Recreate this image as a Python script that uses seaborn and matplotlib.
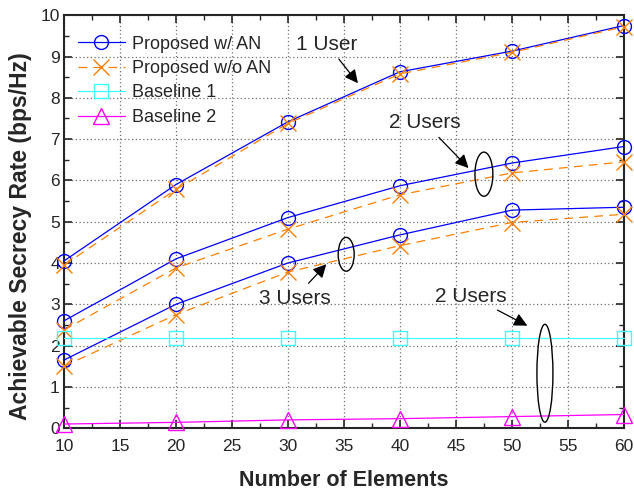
import numpy as np
import pandas as pd
import matplotlib
matplotlib.use("Agg")
import matplotlib.pyplot as plt
from matplotlib.patches import Ellipse
from matplotlib.ticker import MultipleLocator
import seaborn as sns

elements = [10, 20, 30, 40, 50, 60]

# proposed scheme with artificial noise, 1/2/3 users
an_1user = [4.05, 5.90, 7.42, 8.63, 9.13, 9.75]
an_2users = [2.60, 4.10, 5.10, 5.87, 6.42, 6.82]
an_3users = [1.65, 3.00, 4.00, 4.68, 5.28, 5.35]

# proposed scheme without artificial noise
noan_1user = [3.95, 5.78, 7.38, 8.58, 9.10, 9.72]
noan_2users = [2.38, 3.88, 4.82, 5.65, 6.18, 6.45]
noan_3users = [1.50, 2.75, 3.78, 4.42, 4.98, 5.18]

baseline1 = [2.18, 2.18, 2.18, 2.18, 2.18, 2.18]
baseline2 = [0.10, 0.14, 0.20, 0.23, 0.28, 0.33]

sns.set_style("ticks")
plt.rcParams['font.family'] = ['Liberation Sans', 'DejaVu Sans']

fig = plt.figure(figsize=(6.34, 4.91), dpi=100)
ax = fig.add_axes([0.101, 0.128, 0.883, 0.841])

styles = {
    "Proposed w/ AN": dict(color="#0000ff", marker="o", linestyle="-", ms=10),
    "Proposed w/o AN": dict(color="#ff8000", marker="x", linestyle=(0, (7, 5)), ms=11),
    "Baseline 1": dict(color="#40ffff", marker="s", linestyle="-", ms=10),
    "Baseline 2": dict(color="#ff00ff", marker="^", linestyle="-", ms=12),
}

series = [
    ("Proposed w/ AN", an_1user), ("Proposed w/ AN", an_2users), ("Proposed w/ AN", an_3users),
    ("Proposed w/o AN", noan_1user), ("Proposed w/o AN", noan_2users), ("Proposed w/o AN", noan_3users),
    ("Baseline 1", baseline1), ("Baseline 2", baseline2),
]

done = set()
for name, vals in series:
    st = styles[name]
    df = pd.DataFrame({"N": elements, "R": vals})
    label = name if name not in done else None
    done.add(name)
    sns.lineplot(data=df, x="N", y="R", ax=ax, color=st["color"], marker=st["marker"],
                 linestyle=st["linestyle"], linewidth=0.9, markersize=st["ms"],
                 markerfacecolor="none", markeredgecolor=st["color"], markeredgewidth=1.0,
                 label=label, zorder=3, clip_on=False)

ax.set_xlim(10, 60)
ax.set_ylim(0, 10)
ax.xaxis.set_major_locator(MultipleLocator(5))
ax.xaxis.set_minor_locator(MultipleLocator(2.5))
ax.yaxis.set_major_locator(MultipleLocator(1))
ax.yaxis.set_minor_locator(MultipleLocator(0.5))
ax.tick_params(which="both", direction="in", top=True, right=True, labelsize=12.5)
ax.tick_params(axis="x", pad=8)
ax.tick_params(axis="y", pad=3)
ax.tick_params(which="major", length=6, width=1.2)
ax.tick_params(which="minor", length=3.5, width=1.0)
ax.grid(True, which="major", linestyle=(0, (1, 2)), color="#707070", linewidth=0.9)
for sp in ax.spines.values():
    sp.set_linewidth(1.5)

ax.set_xlabel("Number of Elements", fontsize=15.5, fontweight="bold", labelpad=11)
ax.set_ylabel("Achievable Secrecy Rate (bps/Hz)", fontsize=16.5, fontweight="bold")
ax.yaxis.set_label_coords(-0.058, 0.465)

leg = ax.legend(loc="upper left", bbox_to_anchor=(0.012, 0.968), frameon=False, fontsize=13,
                handlelength=2.6, borderaxespad=0, labelspacing=0.41, handletextpad=0.4)

arrow = dict(arrowstyle="-|>", color="black", lw=0.9, mutation_scale=20)
ax.annotate("1 User", xy=(36.4, 8.3), xytext=(33.5, 9.3), fontsize=15, ha="center", va="center",
            arrowprops=arrow)
ax.annotate("2 Users", xy=(46.3, 6.25), xytext=(42.2, 7.4), fontsize=15, ha="center", va="center",
            arrowprops=arrow)
ax.annotate("3 Users", xy=(33.6, 4.02), xytext=(30.6, 3.15), fontsize=15, ha="center", va="center",
            arrowprops=arrow)
ax.annotate("2 Users", xy=(51.6, 2.45), xytext=(46.3, 3.2), fontsize=15, ha="center", va="center",
            arrowprops=arrow)

for cx, cy, w, h in [(47.5, 6.15, 1.6, 1.07), (35.2, 4.21, 1.43, 0.82), (52.95, 1.33, 1.43, 2.37)]:
    ax.add_patch(Ellipse((cx, cy), w, h, fill=False, edgecolor="black", lw=1.0, zorder=4))

fig.savefig("out.png", dpi=100)
